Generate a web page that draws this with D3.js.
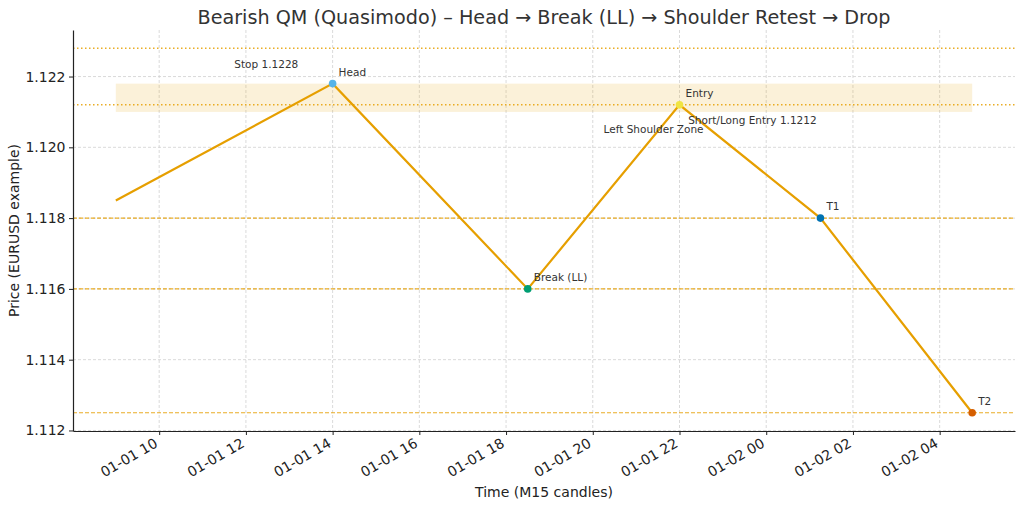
<!DOCTYPE html>
<html><head><meta charset="utf-8">
<script src="https://cdn.jsdelivr.net/npm/d3@7"></script>
<style>body{margin:0;background:#fff}text{font-family:"DejaVu Sans",sans-serif}</style>
</head><body><svg id="c" width="1024" height="508"></svg>
<script>
const pointTimes = ["2024-01-01T09:00","2024-01-01T14:00","2024-01-01T18:30","2024-01-01T22:00","2024-01-02T01:15","2024-01-02T04:45"];
const pointPrices = [1.1185, 1.1218, 1.1160, 1.1212, 1.1180, 1.1125];
const pointLabels = ["", "Head", "Break (LL)", "Entry", "T1", "T2"];
const pointColors = [null, "#56B4E9", "#009E73", "#F0E442", "#0072B2", "#D55E00"];
const dottedLevels = [1.1228, 1.1212];
const dashedLevels = [1.1180, 1.1160, 1.1125];
const zoneRange = [1.1210, 1.1218];
const yTicks = [1.112, 1.114, 1.116, 1.118, 1.120, 1.122];
const textNotes = [
  {t:"2024-01-01T11:44", p:1.12225, text:"Stop 1.1228"},
  {t:"2024-01-01T22:12", p:1.12066, text:"Short/Long Entry 1.1212"},
  {t:"2024-01-01T20:15", p:1.12040, text:"Left Shoulder Zone"}
];

const parse = s => new Date(s + ":00Z");
const times = pointTimes.map(parse);
const svg = d3.select("#c");
const L = 73, R = 1015, T = 30, B = 431;
const span = times[times.length-1] - times[0];
const x = d3.scaleUtc().domain([new Date(+times[0] - span*0.05), new Date(+times[times.length-1] + span*0.05)]).range([L, R]);
const lo = 1.1125, hi = 1.1228, m = (hi - lo) * 0.05;
const y = d3.scaleLinear().domain([lo - m, hi + m]).range([B, T]);

const orange = "#E69F00";
// grid
const xTicks = d3.utcHour.every(2).range(x.domain()[0], x.domain()[1]);
svg.append("g").selectAll("line").data(xTicks).join("line")
  .attr("x1", d => x(d)).attr("x2", d => x(d)).attr("y1", T).attr("y2", B)
  .attr("stroke", "#d0d0d0").attr("stroke-width", 0.8).attr("stroke-dasharray", "3,2");
svg.append("g").selectAll("line").data(yTicks).join("line")
  .attr("x1", L).attr("x2", R).attr("y1", d => y(d)).attr("y2", d => y(d))
  .attr("stroke", "#d0d0d0").attr("stroke-width", 0.8).attr("stroke-dasharray", "3,2");

// zone
svg.append("rect").attr("x", x(times[0])).attr("width", x(times[times.length-1]) - x(times[0]))
  .attr("y", y(zoneRange[1])).attr("height", y(zoneRange[0]) - y(zoneRange[1]))
  .attr("fill", orange).attr("fill-opacity", 0.15);

// levels
svg.append("g").selectAll("line").data(dottedLevels).join("line")
  .attr("x1", L).attr("x2", R).attr("y1", d => y(d)).attr("y2", d => y(d))
  .attr("stroke", orange).attr("stroke-opacity", 0.85).attr("stroke-width", 1.5)
  .attr("stroke-dasharray", "1.5,2.5");
svg.append("g").selectAll("line").data(dashedLevels).join("line")
  .attr("x1", L).attr("x2", R).attr("y1", d => y(d)).attr("y2", d => y(d))
  .attr("stroke", orange).attr("stroke-opacity", 0.85).attr("stroke-width", 1.1)
  .attr("stroke-dasharray", "4,2");

// price line
const data = times.map((t, i) => ({t, p: pointPrices[i], label: pointLabels[i], color: pointColors[i]}));
svg.append("path").datum(data)
  .attr("d", d3.line().x(d => x(d.t)).y(d => y(d.p)))
  .attr("fill", "none").attr("stroke", orange).attr("stroke-width", 2.2);

// markers
svg.append("g").selectAll("circle").data(data.filter(d => d.color)).join("circle")
  .attr("cx", d => x(d.t)).attr("cy", d => y(d.p)).attr("r", 3.8).attr("fill", d => d.color);
svg.append("g").selectAll("text").data(data.filter(d => d.label)).join("text")
  .attr("x", d => x(d.t) + 6).attr("y", d => y(d.p) - 8)
  .attr("font-size", 10.5).attr("fill", "#333").text(d => d.label);

svg.append("g").selectAll("text").data(textNotes).join("text")
  .attr("x", d => x(parse(d.t))).attr("y", d => y(d.p))
  .attr("font-size", 10.5).attr("fill", "#333").text(d => d.text);

// axes
const fmt = d3.utcFormat("%m-%d %H");
const xa = svg.append("g").attr("transform", `translate(0,${B})`)
  .call(d3.axisBottom(x).tickValues(xTicks).tickFormat(fmt).tickSize(4).tickSizeOuter(0));
xa.select(".domain").attr("stroke", "#222").attr("stroke-width", 1.2);
xa.selectAll(".tick line").attr("stroke", "#222");
xa.selectAll(".tick text").attr("font-size", 14).attr("fill", "#222").attr("font-family", "DejaVu Sans")
  .attr("text-anchor", "end").attr("dy", null).attr("y", 0).attr("x", 0)
  .attr("transform", "translate(-1,15) rotate(-30)");
const ya = svg.append("g").attr("transform", `translate(${L},0)`)
  .call(d3.axisLeft(y).tickValues(yTicks).tickFormat(d3.format(".3f")).tickSize(4).tickPadding(3.5).tickSizeOuter(0));
ya.select(".domain").attr("stroke", "#222").attr("stroke-width", 1.2);
ya.selectAll(".tick line").attr("stroke", "#222");
ya.selectAll(".tick text").attr("font-size", 14).attr("fill", "#222").attr("font-family", "DejaVu Sans");

svg.append("text").attr("x", (L+R)/2).attr("y", 24).attr("text-anchor", "middle")
  .attr("font-size", 19.2).attr("fill", "#333").text("Bearish QM (Quasimodo) – Head → Break (LL) → Shoulder Retest → Drop");
svg.append("text").attr("x", (L+R)/2).attr("y", 497).attr("text-anchor", "middle")
  .attr("font-size", 14).attr("fill", "#222").text("Time (M15 candles)");
svg.append("text").attr("transform", `translate(19,${(T+B)/2}) rotate(-90)`).attr("text-anchor", "middle")
  .attr("font-size", 14).attr("fill", "#222").text("Price (EURUSD example)");
</script></body></html>
